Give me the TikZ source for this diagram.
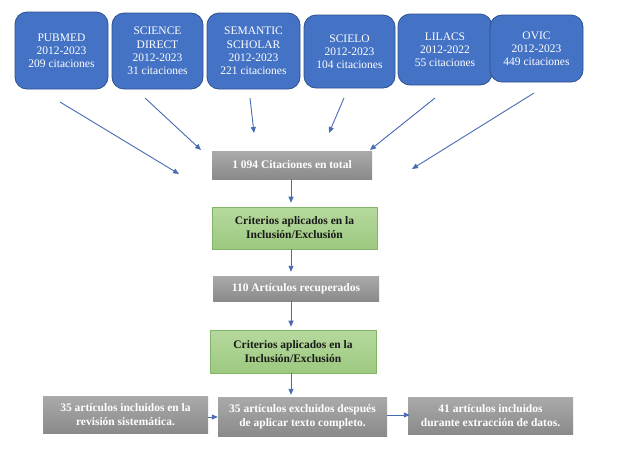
\documentclass[tikz,border=0pt]{standalone}
\usepackage{fontspec}
\setmainfont{Liberation Serif}
\usetikzlibrary{arrows.meta}
\definecolor{bluefill}{RGB}{68,114,196}
\definecolor{blueedge}{RGB}{47,82,143}
\definecolor{arrowc}{RGB}{72,108,180}
\definecolor{graytop}{RGB}{170,170,170}
\definecolor{graybot}{RGB}{138,138,138}
\definecolor{greentop}{RGB}{182,217,158}
\definecolor{greenbot}{RGB}{156,201,127}
\definecolor{greenedge}{RGB}{132,180,104}
\begin{document}
\begin{tikzpicture}[x=1pt,y=-1pt,
  src/.style={draw=blueedge, line width=0.8pt, fill=bluefill, rounded corners=12pt,
    text=white, align=center, inner sep=0pt,
    font=\fontsize{11.5}{13.2}\selectfont},
  graybox/.style={draw=none, top color=graytop, bottom color=graybot,
    text=white, align=center, inner sep=0pt,
    font=\fontsize{11.5}{14}\selectfont\bfseries},
  greenbox/.style={draw=greenedge, line width=0.6pt, top color=greentop, bottom color=greenbot,
    text=black!90, align=center, inner sep=0pt,
    font=\fontsize{11.5}{14}\selectfont\bfseries},
  conn/.style={draw=arrowc, line width=0.9pt, -{Triangle[length=6pt,width=5pt]}}
]
\useasboundingbox[fill=white] (0,0) rectangle (620,451);

% source boxes
\node[src, minimum width=93pt, minimum height=77pt] (pub) at (61.5,50.5) {PUBMED\\2012-2023\\209 citaciones};
\node[src, minimum width=91pt, minimum height=76pt] (sci) at (157.5,51) {SCIENCE\\DIRECT\\2012-2023\\31 citaciones};
\node[src, minimum width=93pt, minimum height=76pt] (sem) at (253.5,51) {SEMANTIC\\SCHOLAR\\2012-2023\\221 citaciones};
\node[src, minimum width=91pt, minimum height=73pt] (scl) at (349.5,51.5) {SCIELO\\2012-2023\\104 citaciones};
\node[src, minimum width=94pt, minimum height=71pt] (lil) at (445,49.5) {LILACS\\2012-2022\\55 citaciones};
\node[src, minimum width=93pt, minimum height=67pt] (ovi) at (536.5,48.5) {OVIC\\2012-2023\\449 citaciones};

% flow boxes
\node[graybox, minimum width=160pt, minimum height=28pt] (tot) at (292,165) {1 094 Citaciones en total};
\node[greenbox, minimum width=165pt, minimum height=42pt] (crit1) at (294.5,228) {Criterios aplicados en la\\Inclusión/Exclusión};
\node[graybox, minimum width=166pt, minimum height=25pt] (rec) at (296,288.5) {110 Artículos recuperados};
\node[greenbox, minimum width=166pt, minimum height=43pt] (crit2) at (293,351.5) {Criterios aplicados en la\\Inclusión/Exclusión};
\node[graybox, minimum width=165pt, minimum height=37pt] (inc) at (125.5,414.5) {35 artículos incluidos en la\\revisión sistemática.};
\node[graybox, minimum width=169pt, minimum height=39pt] (exc) at (302.5,416.5) {35 artículos excluidos después\\de aplicar texto completo.};
\node[graybox, minimum width=165pt, minimum height=37pt] (ext) at (490.5,415.5) {41 artículos incluidos\\durante extracción de datos.};

% free ends of the source arrows
\coordinate (s1) at (60,102);   \coordinate (e1) at (179,174);
\coordinate (s2) at (145,98);   \coordinate (e2) at (201,150);
\coordinate (s3) at (250,98);   \coordinate (e3) at (254,133);
\coordinate (s4) at (344,98);   \coordinate (e4) at (329,133);
\coordinate (s5) at (435,98);   \coordinate (e5) at (370,150);
\coordinate (s6) at (534,93);   \coordinate (e6) at (412,169);
\draw[conn] (s1) -- (e1);
\draw[conn] (s2) -- (e2);
\draw[conn] (s3) -- (e3);
\draw[conn] (s4) -- (e4);
\draw[conn] (s5) -- (e5);
\draw[conn] (s6) -- (e6);

% vertical chain
\coordinate (vx) at (291,0);
\draw[conn, shorten >=4pt] (tot.south -| vx) -- (crit1.north -| vx);
\draw[conn, shorten >=4pt] (crit1.south -| vx) -- (rec.north -| vx);
\draw[conn, shorten >=3pt] (rec.south -| vx) -- (crit2.north -| vx);
\draw[conn, shorten >=2pt] (crit2.south -| vx) -- (exc.north -| vx);

% bottom row
\draw[conn] (inc.east |- 0,417) -- (exc.west |- 0,417);
\draw[conn, shorten >=-2pt] (exc.east |- 0,415) -- (ext.west |- 0,415);
\end{tikzpicture}
\end{document}
